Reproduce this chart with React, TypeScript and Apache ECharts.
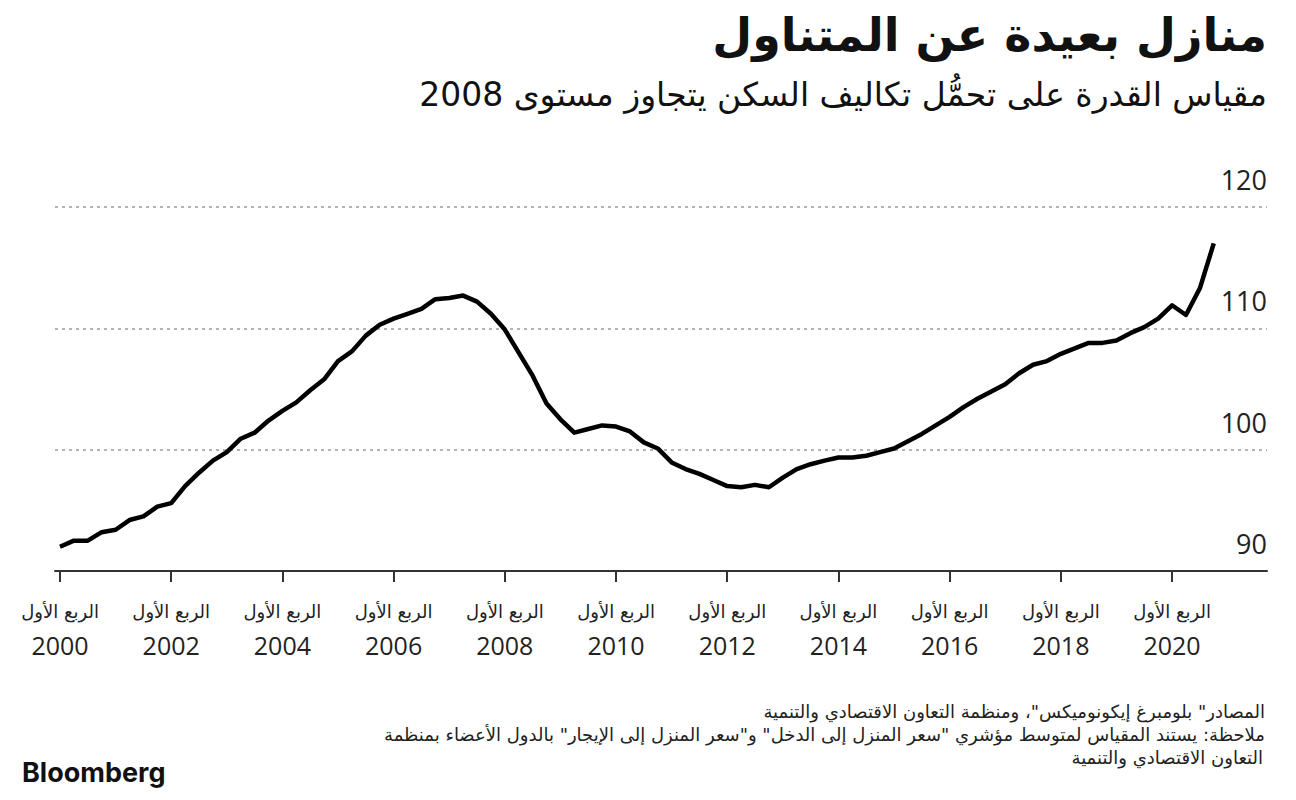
import React, { useEffect, useRef } from "react";
import * as echarts from "echarts";

// Quarterly index, 2000 Q1 .. 2020 Q4
const startYear = 2000;
const values = [
  92.0, 92.5, 92.5, 93.2, 93.4, 94.2, 94.5, 95.3, 95.6, 97.0,
  98.1, 99.1, 99.8, 100.9, 101.4, 102.4, 103.2, 103.9, 104.9, 105.8,
  107.3, 108.1, 109.4, 110.3, 110.8, 111.2, 111.6, 112.4, 112.5, 112.7,
  112.2, 111.2, 109.9, 108.0, 106.1, 103.8, 102.5, 101.4, 101.7, 102.0,
  101.9, 101.5, 100.6, 100.1, 98.95, 98.4, 98.0, 97.5, 97.0, 96.9,
  97.1, 96.9, 97.7, 98.4, 98.8, 99.1, 99.35, 99.35, 99.5, 99.8,
  100.1, 100.7, 101.3, 102.0, 102.7, 103.5, 104.2, 104.8, 105.4, 106.3,
  107.0, 107.3, 107.9, 108.35, 108.8, 108.8, 109.0, 109.6, 110.1, 110.8,
  111.9, 111.1, 113.3, 117.0,
];
const tickYears = [2000, 2002, 2004, 2006, 2008, 2010, 2012, 2014, 2016, 2018, 2020];
const quarterLabel = "الربع الأول";
const yMin = 90;
const yMax = 120;
const yStep = 10;

const title = "منازل بعيدة عن المتناول";
const subtitle = "مقياس القدرة على تحمُّل تكاليف السكن يتجاوز مستوى 2008";
const sourceLine = "المصادر\" بلومبرغ إيكونوميكس\"، ومنظمة التعاون الاقتصادي والتنمية";
const noteLine1 = "ملاحظة: يستند المقياس لمتوسط مؤشري \"سعر المنزل إلى الدخل\" و\"سعر المنزل إلى الإيجار\" بالدول الأعضاء بمنظمة";
const noteLine2 = "التعاون الاقتصادي والتنمية";
const brand = "Bloomberg";

const AR = "'DejaVu Sans', sans-serif";
const NUM = "'Open Sans', sans-serif";

export default function App() {
  const ref = useRef<HTMLDivElement>(null);
  useEffect(() => {
    if (!ref.current) return;
    const chart = echarts.init(ref.current, null, { renderer: "svg" });
    const data = values.map((v, i) => [i, v]);
    const tickIdx = tickYears.map((y) => (y - startYear) * 4);
    chart.setOption({
      animation: false,
      backgroundColor: "#fff",
      grid: { left: 55, right: 29, top: 207, bottom: 229, containLabel: false },
      xAxis: {
        type: "value",
        min: -0.36,
        max: 86.83,
        splitLine: { show: false },
        axisLine: { show: true, onZero: false, lineStyle: { color: "#333", width: 2 } },
        axisTick: { show: true, customValues: tickIdx, length: 11, lineStyle: { color: "#333", width: 2 } },
        axisLabel: {
          customValues: tickIdx,
          margin: 26,
          formatter: (v: number) => `{q|${quarterLabel}}\n{y|${startYear + Math.round(v) / 4}}`,
          rich: {
            q: { fontFamily: AR, fontSize: 18, color: "#222", lineHeight: 28 },
            y: { fontFamily: NUM, fontSize: 25, color: "#222", lineHeight: 40 },
          },
        },
      },
      yAxis: {
        type: "value",
        min: yMin,
        max: yMax,
        interval: yStep,
        position: "right",
        axisLine: { show: false },
        axisTick: { show: false },
        splitLine: { show: true, lineStyle: { type: [3, 4], color: "#b3b3b3", width: 2 } },
        axisLabel: {
          inside: true,
          verticalAlign: "bottom",
          margin: 0,
          padding: [0, 0, 14, 0],
          fontFamily: NUM,
          fontSize: 27,
          color: "#222",
        },
      },
      series: [
        {
          type: "line",
          data,
          symbol: "none",
          showSymbol: false,
          lineStyle: { color: "#000", width: 4.5, join: "round" },
        },
      ],
      graphic: [
        {
          type: "text",
          right: 29,
          top: 12,
          style: { text: title, font: `bold 46px ${AR}`, fill: "#111", textAlign: "right" },
        },
        {
          type: "text",
          right: 29,
          top: 78,
          style: { text: subtitle, font: `33px ${AR}`, fill: "#111", textAlign: "right" },
        },
        {
          type: "text",
          right: 31,
          top: 702,
          style: { text: sourceLine, font: `18px ${AR}`, fill: "#222", textAlign: "right" },
        },
        {
          type: "text",
          right: 31,
          top: 725,
          style: { text: noteLine1, font: `18px ${AR}`, fill: "#222", textAlign: "right" },
        },
        {
          type: "text",
          right: 33,
          top: 748,
          style: { text: noteLine2, font: `18px ${AR}`, fill: "#222", textAlign: "right" },
        },
        {
          type: "text",
          left: 22,
          top: 759,
          style: { text: brand, font: `bold 27px Inter, sans-serif`, fill: "#111" },
        },
      ],
    });
    return () => chart.dispose();
  }, []);
  return (
    <div
      ref={ref}
      style={{ position: "absolute", left: 0, top: 0, width: 1296, height: 800 }}
    />
  );
}
